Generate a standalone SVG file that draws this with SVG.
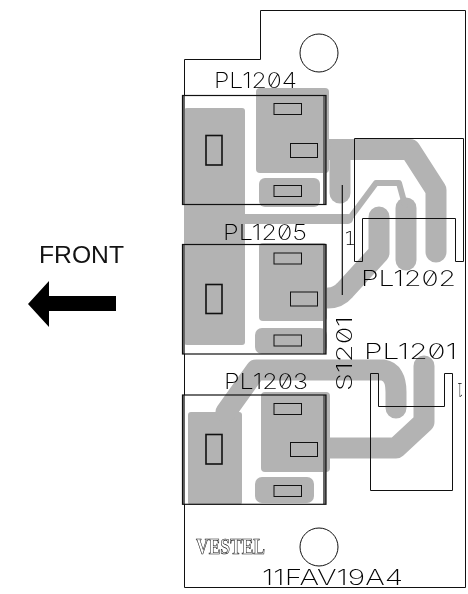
<svg xmlns="http://www.w3.org/2000/svg" width="468" height="594" viewBox="0 0 468 594">
<style>
.g{fill:#b3b3b3;stroke:none}
.t{fill:none;stroke:#b3b3b3;stroke-linejoin:round;stroke-linecap:round;stroke-width:21}
.o{fill:none;stroke:#111;stroke-width:1}
.p{fill:none;stroke:#111;stroke-width:1.6}
.box{fill:none;stroke:#111;stroke-width:1.2}
.bar{fill:#666;stroke:none}
.l{font-family:"Inter","DejaVu Sans",sans-serif;font-weight:200;font-feature-settings:"zero";fill:#000;font-size:21px;stroke:none}
.n{font-family:"DejaVu Sans",sans-serif;font-weight:200;fill:#000;stroke:none}
</style>
<path id="board" class="o" d="M260.500 10.500H465.500V587.500H184.500V59.500H260.500Z"/>
<g id="copper">
<rect class="g" x="184" y="108" width="61" height="237" rx="3"/>
<rect class="g" x="256" y="88" width="73" height="85" rx="4"/>
<rect class="g" x="259" y="178" width="61" height="29" rx="6"/>
<rect class="g" x="259" y="243" width="68" height="78" rx="4"/>
<rect class="g" x="255" y="328" width="72" height="26" rx="7"/>
<rect class="g" x="261" y="392" width="69" height="80" rx="4"/>
<rect class="g" x="188" y="412" width="54" height="93" rx="3"/>
<rect class="g" x="255" y="477" width="59" height="26" rx="7"/>
<path class="t" stroke-linecap="butt" d="M325 149.500H410L436 190V252"/>
<path class="t" d="M340 150V193"/>
<path class="t" d="M379 217V253L345 290Q338 298 328 298"/>
<path class="t" d="M406 208V260"/>
<path class="t" style="stroke-width:6" d="M350 218L376 183H399L405 205"/>
<path class="t" style="stroke-width:10" d="M245 219H348"/>
<path class="t" d="M226 412L256 370H383Q396 372 396 392V408"/>
<path class="t" d="M424 366V422L396 448H330"/>
</g>
<g id="parts">
<g id="PL1204-body"><rect class="bar" x="182" y="96" width="3" height="108"/><rect class="bar" x="323" y="96" width="3" height="108"/><rect class="box" x="182.500" y="95.500" width="143.500" height="109"/></g>
<g id="PL1205-body"><rect class="bar" x="182" y="245" width="3" height="109"/><rect class="bar" x="323" y="245" width="3" height="109"/><rect class="box" x="182.500" y="244.500" width="143.500" height="109.500"/></g>
<g id="PL1203-body"><rect class="bar" x="182" y="395" width="3" height="109"/><rect class="bar" x="323" y="395" width="3" height="109"/><rect class="box" x="182.500" y="395" width="143.500" height="109.300"/></g>
<rect class="p" x="206" y="135.500" width="16" height="29.500"/>
<rect class="p" x="206" y="284.500" width="16" height="29"/>
<rect class="p" x="206" y="434.500" width="16" height="29.500"/>
<rect class="o" x="274" y="103.500" width="27.500" height="11"/>
<rect class="o" x="290.500" y="143.500" width="27" height="14"/>
<rect class="o" x="274" y="185.500" width="27.500" height="11"/>
<rect class="o" x="274" y="253" width="27.500" height="11"/>
<rect class="o" x="290.500" y="292" width="27" height="14"/>
<rect class="o" x="274" y="335" width="27.500" height="11"/>
<rect class="o" x="274" y="403.500" width="27.500" height="11"/>
<rect class="o" x="290.500" y="442.500" width="27" height="14"/>
<rect class="o" x="274" y="485.500" width="27.500" height="11"/>
<circle class="o" cx="319" cy="53" r="19"/>
<circle class="o" cx="319" cy="547" r="19"/>
<path id="PL1202-body" class="o" d="M354.500 138.500H463.500V261.500H455.500V218.500H362.500V261.500H354.500Z"/>
<path id="PL1201-body" class="o" d="M370.500 373.500H378.500V406.500H444.500V373.500H452.500V490.500H370.500Z"/>
<path stroke="#111" stroke-width="1.200" d="M342.300 185V295"/>
</g>
<g id="labels" opacity="0.99">
<text class="l" x="214" y="88" textLength="83" lengthAdjust="spacingAndGlyphs">PL1204</text>
<text class="l" x="223" y="239.500" textLength="84" lengthAdjust="spacingAndGlyphs">PL1205</text>
<text class="l" x="224" y="389" textLength="84" lengthAdjust="spacingAndGlyphs">PL1203</text>
<text class="l" x="361" y="285.500" textLength="95" lengthAdjust="spacingAndGlyphs">PL1202</text>
<text class="l" x="364" y="359" textLength="93" lengthAdjust="spacingAndGlyphs">PL1201</text>
<text class="l" transform="translate(351.500 391) rotate(-90)" textLength="75" lengthAdjust="spacingAndGlyphs">S1201</text>
<text class="n" x="344" y="245" font-size="19">1</text>
<text class="n" transform="translate(463 383) rotate(180)" font-size="19" textLength="6" lengthAdjust="spacingAndGlyphs">1</text>
<text class="l" x="262" y="585" textLength="141" lengthAdjust="spacingAndGlyphs">11FAV19A4</text>
<text x="196" y="554" font-family="Liberation Serif,serif" font-weight="700" font-size="24" fill="#fff" stroke="#111" stroke-width=".7" textLength="69" lengthAdjust="spacingAndGlyphs">VESTEL</text>
<text x="39" y="263" font-family="Liberation Sans,sans-serif" font-size="24.700" fill="#111">FRONT</text>
</g>
<path id="arrow" fill="#000" d="M116 296V311H49V327L28 304L49 281V296Z"/>
</svg>
